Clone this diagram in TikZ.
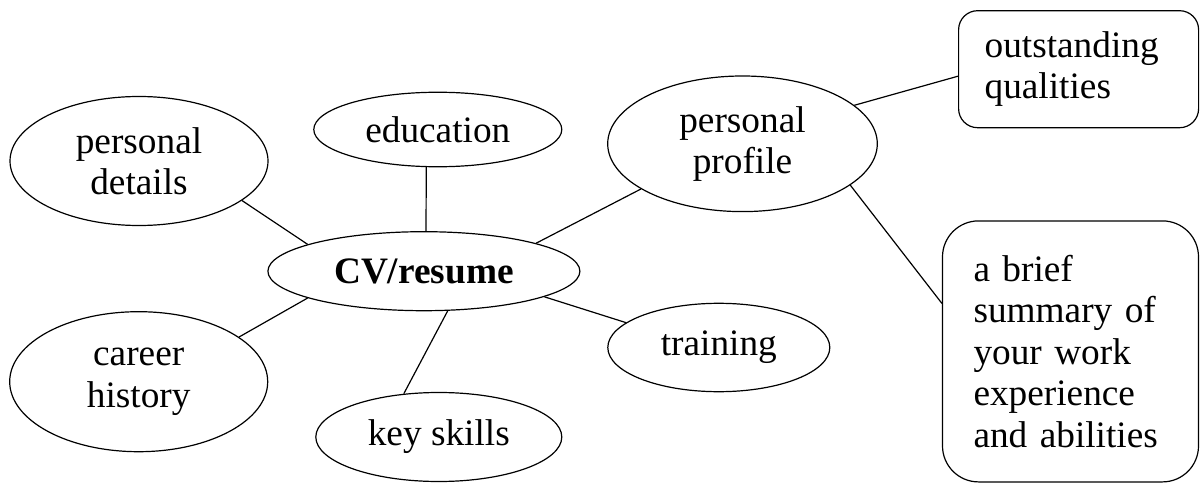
\documentclass[tikz,border=0pt]{standalone}
\usepackage{fontspec}
\setmainfont{Liberation Serif}
\usetikzlibrary{shapes.geometric}
\begin{document}
\begin{tikzpicture}[x=1pt,y=-1pt,
  every node/.style={font=\fontsize{37.3}{41.5}\selectfont},
  oval/.style={draw, ellipse, line width=1.2pt, inner sep=0pt, align=center},
  box/.style={draw, rectangle, line width=1.2pt, align=left, inner ysep=0pt},
  link/.style={line width=1.2pt}]
\useasboundingbox (0,0) rectangle (1200,484);
\node[oval, minimum width=258pt, minimum height=129pt] (pd) at (139,161) {personal\\details};
\node[oval, minimum width=248pt, minimum height=74.5pt] (ed) at (437.8,129.5) {education};
\node[oval, minimum width=312pt, minimum height=79pt] (cv) at (423.9,271.2) {\bfseries CV/resume};
\node[oval, minimum width=258pt, minimum height=140pt] (ch) at (138.7,381.7) {career\\history};
\node[oval, minimum width=246pt, minimum height=89pt] (ks) at (438.8,437) {key skills};
\node[oval, minimum width=269.6pt, minimum height=135.6pt] (pp) at (742.5,143.8) {personal\\profile};
\node[oval, minimum width=222pt, minimum height=88.4pt] (tr) at (718.8,347.5) {training};
\node[box, rounded corners=19pt, minimum height=117pt, inner xsep=26pt, text width=188pt] (oq) at (1078.6,69.2) {outstanding\\qualities};
\node[box, rounded corners=36pt, minimum height=261pt, inner xsep=31pt, text width=194pt] (sum) at (1070.5,351.4) {a brief\\summary of\\your work\\experience\\and abilities};
\draw[link] (pd.-21.2) -- (cv.167.7);
\draw[link] (ed.-107.7) -- (cv.87);
\draw[link] (cv.14.2) -- (pp.-156.9);
\draw[link] (ch.24.2) -- (cv.-167.4);
\draw[link] (ks.129.9) -- (cv.-59.4);
\draw[link] (cv.-12.2) -- (tr.165.5);
\draw[link] (pp.19.9) -- ([yshift=-7pt]oq.west);
\draw[link] (pp.-21.4) -- ([yshift=48pt]sum.west);
\end{tikzpicture}
\end{document}
